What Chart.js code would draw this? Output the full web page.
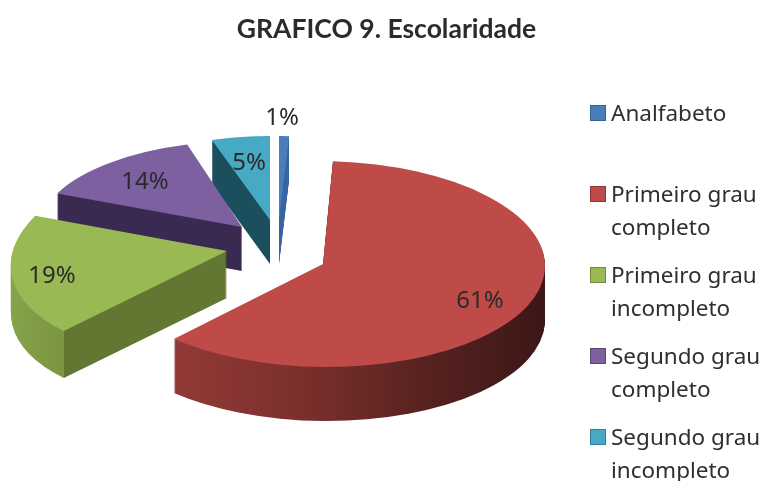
<!DOCTYPE html>
<html>
<head>
<meta charset="utf-8">
<title>GRAFICO 9. Escolaridade</title>
<script src="https://cdn.jsdelivr.net/npm/chart.js@4"></script>
<style>
  html, body { margin: 0; padding: 0; background: #fff; }
  #wrap { width: 761px; height: 481px; }
</style>
</head>
<body>
<div id="wrap"><canvas id="chart"></canvas></div>
<script>
const chartTitle = 'GRAFICO 9. Escolaridade';
const categories = ['Analfabeto', 'Primeiro grau completo', 'Primeiro grau incompleto', 'Segundo grau completo', 'Segundo grau incompleto'];
const percentValues = [1, 61, 19, 14, 5];
const legendLines = [
    ['Analfabeto'],
    ['Primeiro grau', 'completo'],
    ['Primeiro grau', 'incompleto'],
    ['Segundo grau', 'completo'],
    ['Segundo grau', 'incompleto']
];

const topColors = ['#4a7ebb', '#be4b48', '#98b954', '#7d60a0', '#46aac5'];
const legendBorders = ['#34618f', '#8f3532', '#71893c', '#5c4678', '#31809a'];
const sideStops = [
    [[0, '#3565a3'], [1, '#3565a3']],
    [[0, '#a03f3c'], [0.45, '#7a2f2c'], [0.75, '#54211f'], [1, '#3c1716']],
    [[0, '#86a44b'], [0.158, '#7a9640'], [0.158, '#617732'], [1, '#617732']],
    [[0, '#3a2950'], [1, '#3a2950']],
    [[0, '#1c4f5e'], [1, '#1c4f5e']]
];

// each slice has its own projection: apex, sin axis, cos axis, height of the side
const sliceViews = [
    { x: 279, y: 220, ax: 160, ay: 0, bx: 0, by: 84, depth: 44 },
    { x: 323, y: 264, ax: 222, ay: 0, bx: 4, by: 103, depth: 54 },
    { x: 227, y: 251, ax: 215, ay: -4, bx: -22, by: 106, depth: 47 },
    { x: 242, y: 227, ax: 202, ay: 2, bx: -8, by: 86, depth: 44 },
    { x: 270, y: 220, ax: 188, ay: 0, bx: 0, by: 84, depth: 44 }
];
const drawOrder = [0, 4, 3, 2, 1];
const labelSpots = [[282, 118], [480, 301], [52, 276], [145, 182], [249, 163]];

const pie3d = {
    id: 'pie3d',
    beforeDatasetDraw(chart) {
        const ctx = chart.ctx;
        const meta = chart.getDatasetMeta(0);

        function drawSlice(arc, view, dy, fill) {
            const r = arc.outerRadius;
            const flat = Object.create(arc, {
                options: { value: Object.assign({}, arc.options, { backgroundColor: fill, borderWidth: 0 }) }
            });
            ctx.save();
            ctx.transform(view.ax / r, view.ay / r, view.bx / r, view.by / r, view.x, view.y + dy);
            ctx.translate(-arc.x, -arc.y);
            Chart.elements.ArcElement.prototype.draw.call(flat, ctx);
            ctx.restore();
        }

        drawOrder.forEach(i => {
            const arc = meta.data[i];
            const view = sliceViews[i];
            const grad = ctx.createLinearGradient(arc.x - arc.outerRadius, 0, arc.x + arc.outerRadius, 0);
            sideStops[i].forEach(s => grad.addColorStop(s[0], s[1]));
            for (let dy = view.depth; dy > 0; dy--) {
                drawSlice(arc, view, dy, grad);
            }
            drawSlice(arc, view, 0, topColors[i]);
        });

        ctx.save();
        ctx.font = '24px "Noto Sans"';
        ctx.fillStyle = '#2a2a2a';
        ctx.textAlign = 'center';
        ctx.textBaseline = 'middle';
        percentValues.forEach((v, i) => {
            ctx.fillText(v + '%', labelSpots[i][0], labelSpots[i][1]);
        });
        ctx.restore();
        return false;
    },
    // legend rows keep an even step even when a row has one line, so it is drawn here
    afterDraw(chart) {
        const ctx = chart.ctx;
        ctx.save();
        ctx.font = '22.5px "Noto Sans"';
        ctx.textAlign = 'left';
        ctx.textBaseline = 'middle';
        legendLines.forEach((lines, i) => {
            const rowY = 115 + i * 81;
            ctx.fillStyle = topColors[i];
            ctx.strokeStyle = legendBorders[i];
            ctx.lineWidth = 1;
            ctx.fillRect(590.5, rowY - 9.5, 15, 15);
            ctx.strokeRect(590.5, rowY - 9.5, 15, 15);
            ctx.fillStyle = '#2f2f2f';
            lines.forEach((line, j) => ctx.fillText(line, 611, rowY + j * 32.5));
        });
        ctx.restore();
    }
};

new Chart(document.getElementById('chart'), {
    type: 'pie',
    data: {
        labels: categories,
        datasets: [{
            data: percentValues,
            backgroundColor: topColors,
            borderWidth: 0
        }]
    },
    options: {
        responsive: true,
        maintainAspectRatio: false,
        animation: false,
        layout: { padding: { top: 14, left: 12, right: 0, bottom: 0 } },
        plugins: {
            title: {
                display: true,
                text: chartTitle,
                color: '#2b2b2b',
                font: { family: 'Lato', size: 26.5, weight: 'bold' },
                padding: { top: 0, bottom: 40 }
            },
            legend: { display: false },
            tooltip: { enabled: false }
        }
    },
    plugins: [pie3d]
});
</script>
</body>
</html>
